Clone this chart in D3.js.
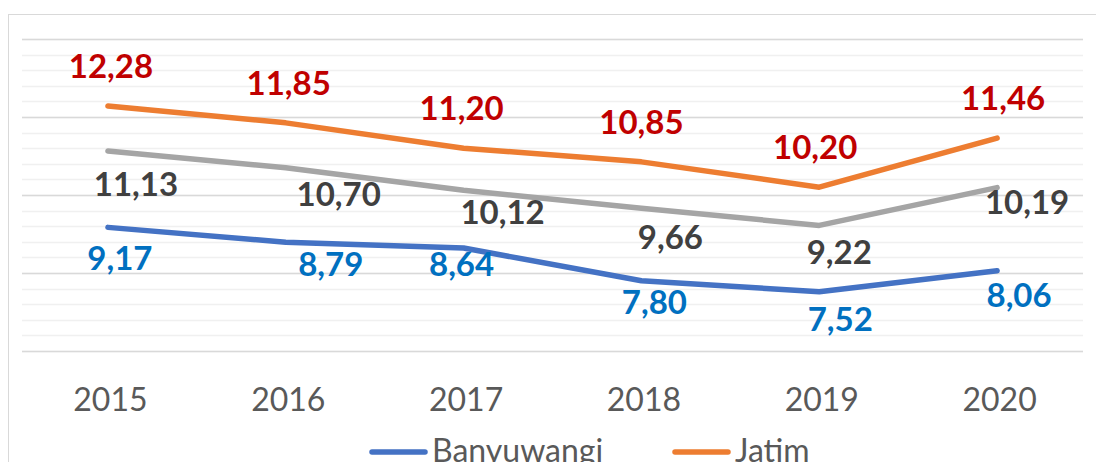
<!DOCTYPE html>
<html>
<head>
<meta charset="utf-8">
<script src="https://cdn.jsdelivr.net/npm/d3@7"></script>
<style>
  html, body { margin: 0; padding: 0; background: #fff; }
  svg { display: block; font-family: Lato, "Open Sans", sans-serif; }
</style>
</head>
<body>
<div id="chart"></div>
<script>
const years = ["2015", "2016", "2017", "2018", "2019", "2020"];
const banyuwangi = [9.17, 8.79, 8.64, 7.80, 7.52, 8.06];
const jatim = [12.28, 11.85, 11.20, 10.85, 10.20, 11.46];
const nasional = [11.13, 10.70, 10.12, 9.66, 9.22, 10.19];
const legendNames = ["Banyuwangi", "Jatim"];

// hand-placed data label nudges (layout only)
const grayNudgeX = [28, 53, 39, 29, 20, 30];
const grayNudgeY = [45, 38, 34, 41, 39, 26];
const blueNudgeX = [12, 45, -2, 13, 21, 22];
const blueNudgeY = [43, 34, 28, 33, 39, 36];

const width = 1096, height = 462;

const svg = d3.select("#chart").append("svg")
    .attr("width", width)
    .attr("height", height);

// chart frame, runs off the right and bottom edge
svg.append("rect")
    .attr("x", 8.5).attr("y", 14.5)
    .attr("width", 1200).attr("height", 600)
    .attr("fill", "none")
    .attr("stroke", "#d9d9d9");

var x = d3.scalePoint()
    .domain(years)
    .range([19, 1086])
    .padding(0.5);

var y = d3.scaleLinear()
    .domain([6, 14])
    .range([351, 39]);

// minor then major gridlines
var minorTicks = d3.range(6, 14.001, 0.4).map(v => +v.toFixed(1));
svg.append("g").selectAll("line")
    .data(minorTicks)
    .enter().append("line")
    .attr("x1", 22).attr("x2", 1083)
    .attr("y1", d => Math.round(y(d)) + 0.5)
    .attr("y2", d => Math.round(y(d)) + 0.5)
    .attr("stroke", "#f0f0f0")
    .attr("stroke-width", 1.5);

svg.append("g").selectAll("line")
    .data(y.ticks(4))
    .enter().append("line")
    .attr("x1", 22).attr("x2", 1083)
    .attr("y1", d => Math.round(y(d)) + 0.5)
    .attr("y2", d => Math.round(y(d)) + 0.5)
    .attr("stroke", "#d9d9d9")
    .attr("stroke-width", 1.5);

// x axis labels
var xAxis = d3.axisBottom(x).tickSize(0).tickPadding(0);
var xAxisG = svg.append("g")
    .attr("transform", "translate(2, 411)")
    .call(xAxis);
xAxisG.select(".domain").remove();
xAxisG.selectAll("text")
    .attr("dy", 0)
    .attr("font-family", "Lato, sans-serif")
    .attr("font-size", 32)
    .attr("fill", "#595959");

const series = [
    {values: nasional, color: "#a5a5a5", label: "#404040", nx: grayNudgeX, ny: grayNudgeY},
    {values: jatim, color: "#ed7d31", label: "#c00000", nx: [3, 3, -2, 0, -4, 6], ny: years.map(() => -28)},
    {values: banyuwangi, color: "#4472c4", label: "#0070c0", nx: blueNudgeX, ny: blueNudgeY}
];

var line = d3.line()
    .x((d, i) => x(years[i]))
    .y(d => y(d));

series.forEach(s => {
    svg.append("path")
        .datum(s.values)
        .attr("d", line)
        .attr("fill", "none")
        .attr("stroke", s.color)
        .attr("stroke-width", 5.5)
        .attr("stroke-linecap", "round")
        .attr("stroke-linejoin", "round");
});

var fmt = v => d3.format(".2f")(v).replace(".", ",");

series.forEach(s => {
    svg.append("g").selectAll("text")
        .data(s.values)
        .enter().append("text")
        .attr("x", (d, i) => x(years[i]) + s.nx[i])
        .attr("y", (d, i) => y(d) + s.ny[i])
        .attr("text-anchor", "middle")
        .attr("font-size", 33)
        .attr("font-weight", "bold")
        .attr("fill", s.label)
        .text(d => fmt(d));
});

// legend (cut off at the bottom edge)
var legendX = [372, 675];
legendNames.forEach((name, i) => {
    var g = svg.append("g").attr("transform", `translate(${legendX[i]}, 452)`);
    g.append("line")
        .attr("x1", 0).attr("x2", 53)
        .attr("stroke", series[i === 0 ? 2 : 1].color)
        .attr("stroke-width", 5.5)
        .attr("stroke-linecap", "round");
    g.append("text")
        .attr("x", 60)
        .attr("y", 10)
        .attr("font-size", 32)
        .attr("fill", "#595959")
        .text(name);
});
</script>
</body>
</html>
